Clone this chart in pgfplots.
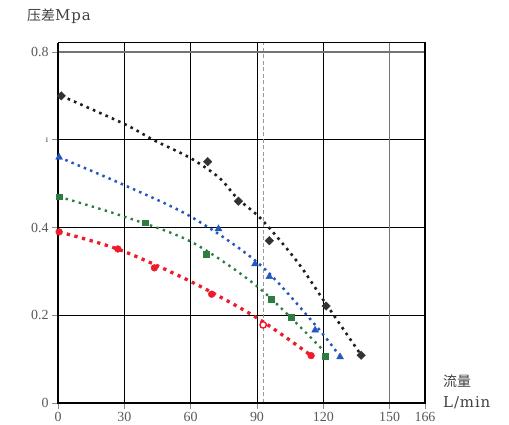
\documentclass[border=0pt]{standalone}
\usepackage{pgfplots}
\pgfplotsset{compat=1.18}
\usepackage{fontspec}
\setmainfont{Liberation Serif}
\newfontfamily\cjk{Noto Sans CJK SC}
\newfontfamily\lbl[LetterSpace=6]{DejaVu Serif}
\definecolor{cblack}{HTML}{1E1E1E}
\definecolor{cblue}{HTML}{2458C0}
\definecolor{cgreen}{HTML}{2E7D40}
\definecolor{cred}{HTML}{EC1C2C}
\begin{document}
\begin{tikzpicture}
\useasboundingbox (0,0) rectangle (509bp,425bp);
\begin{axis}[at={(58bp,22bp)}, anchor=south west, width=367bp, height=360bp, scale only axis,
  xmin=0, xmax=166, ymin=0, ymax=0.8205,
  xtick={0,30,60,90,120,150,166},
  ytick={0,0.2,0.4,0.6,0.8}, yticklabels={0,0.2,0.4,{\fontsize{10}{10}\selectfont ı},0.8},
  grid=major, grid style={black, line width=0.7bp},
  axis line style={black, line width=1bp},
  tick align=outside, tick pos=left, major tick length=6bp,
  tick style={black!45, line width=0.6bp},
  ticklabel style={font=\fontsize{14}{15}\selectfont, text=black!65},
  /pgf/number format/assume math mode=true, clip=false]
% fitted curves
\addplot[cblack, line width=2.6bp, dash pattern=on 2.6bp off 4.3bp, smooth] coordinates {
 (1.5,0.70) (30,0.636) (43,0.60) (60,0.558) (73,0.513) (81,0.467) (91,0.424) (101,0.367) (110,0.31) (120,0.235) (137,0.11)};
\addplot[cblue, line width=2.5bp, dash pattern=on 2.5bp off 4.2bp, smooth] coordinates {
 (0.5,0.56) (28,0.501) (60,0.425) (91,0.317) (116,0.18) (127,0.11)};
\addplot[cgreen, line width=2.4bp, dash pattern=on 2.4bp off 4.4bp, smooth] coordinates {
 (0.5,0.47) (28,0.428) (60,0.368) (91,0.262) (120,0.12)};
\addplot[cred, line width=3.3bp, dash pattern=on 3.3bp off 4.6bp, smooth] coordinates {
 (0.5,0.39) (28,0.349) (60,0.277) (90,0.194) (114,0.11)};
% markers
\addplot[only marks, mark=square*, mark size=3bp, mark options={rotate=45}, color=black!80] coordinates {
 (1.5,0.70) (67.7,0.55) (81.6,0.46) (95.6,0.37) (121.3,0.221) (137.1,0.109)};
\addplot[only marks, mark=triangle*, mark size=4bp, color=cblue] coordinates {
 (0.5,0.56) (72.6,0.397) (89.1,0.317) (95.6,0.288) (116.3,0.166) (127.6,0.105)};
\addplot[only marks, mark=square*, mark size=2.8bp, color=cgreen] coordinates {
 (0.5,0.47) (39.4,0.411) (67,0.339) (96.4,0.237) (105.4,0.196) (120.8,0.107)};
\addplot[only marks, mark=*, mark size=3.4bp, color=cred] coordinates {
 (0.5,0.39) (27.1,0.351) (43.6,0.308) (69.5,0.248) (114.5,0.108)};
\addplot[only marks, mark=*, mark size=3.2bp, mark options={draw=cred, fill=white, line width=1.4bp}] coordinates {
 (92.8,0.178)};
% dashed reference line
\addplot[black!40, line width=1bp, dash pattern=on 4bp off 2.5bp] coordinates {(92.9,0) (92.9,0.8205)};
% frame details
\draw[black!55, line width=1.8bp] (axis cs:0,0.8) -- (axis cs:166,0.8);
\draw[black!55, line width=1.2bp] (axis cs:150,0) -- (axis cs:150,0.8205);
\draw[black, line width=1.6bp] (axis cs:166,0) -- (axis cs:166,0.8205);
\draw[black, line width=2bp] (axis cs:0,0.8205) -- (axis cs:0,0) -- (axis cs:166,0);
\end{axis}
\node[anchor=west, inner sep=0pt, text=black!75] at (27bp,408.5bp) {\fontsize{14}{16}\selectfont\cjk 压差\lbl\fontsize{15}{16}\selectfont Mpa};
\node[anchor=west, inner sep=0pt, text=black!75] at (443bp,43.5bp) {\fontsize{14}{16}\selectfont\cjk 流量};
\node[anchor=west, inner sep=0pt, text=black!75] at (443bp,22.5bp) {\lbl\fontsize{15}{16}\selectfont L/min};
\end{tikzpicture}
\end{document}
